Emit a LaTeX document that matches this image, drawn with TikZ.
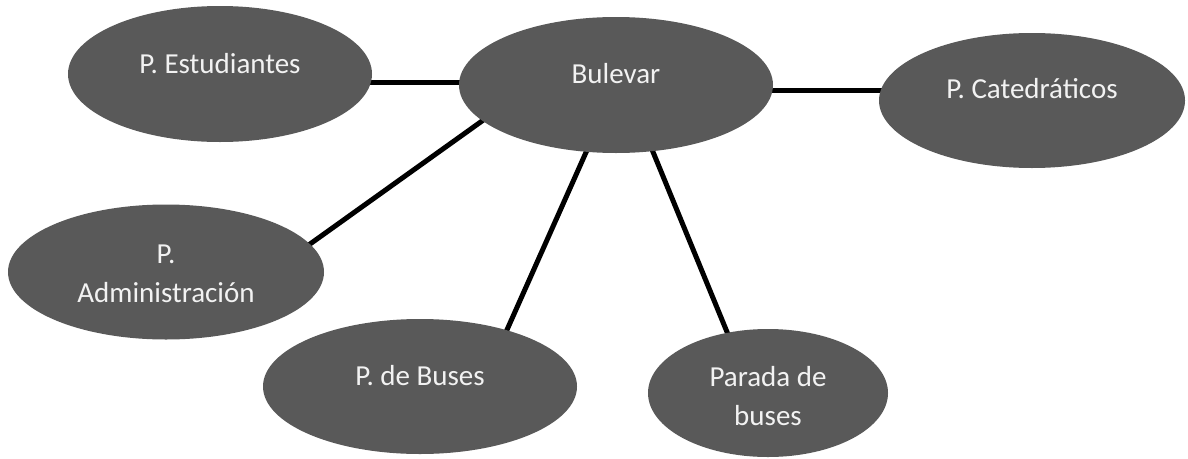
\documentclass[tikz,border=0pt]{standalone}
\usepackage{fontspec}
\setmainfont{Carlito}
\usetikzlibrary{shapes.geometric}
\pgfdeclarelayer{background}
\pgfsetlayers{background,main}
\definecolor{ellgray}{HTML}{595959}
\definecolor{txtwhite}{HTML}{F2F2F2}
\tikzset{
  oval/.style={ellipse, fill=ellgray, draw=none, inner sep=0pt},
  lbl/.style={text=txtwhite, align=center, anchor=base, font=\fontsize{29}{38.5}\selectfont, inner sep=0pt},
  link/.style={line width=5pt, black, shorten <=-3pt, shorten >=-3pt}
}
\begin{document}
\begin{tikzpicture}[x=1pt,y=-1pt]
\useasboundingbox (0,0) rectangle (1188,458);
\node[oval, minimum width=304pt, minimum height=136pt] (est) at (220,74) {};
\node[oval, minimum width=314pt, minimum height=136pt] (bul) at (616,85) {};
\node[oval, minimum width=306pt, minimum height=135pt] (cat) at (1032,100.5) {};
\node[oval, minimum width=316pt, minimum height=135pt] (adm) at (166,272) {};
\node[oval, minimum width=314pt, minimum height=135pt] (bus) at (420,386.5) {};
\node[oval, minimum width=240pt, minimum height=128pt] (par) at (768,393) {};
\node[lbl] (estT) at (220,73) {P. Estudiantes};
\node[lbl] (bulT) at (616,83) {Bulevar};
\node[lbl] (catT) at (1032,98) {P. Catedráticos};
\node[lbl] (admT) at (166,302) {P.\\Administración};
\node[lbl] (busT) at (420,385) {P. de Buses};
\node[lbl] (parT) at (768,425) {Parada de\\buses};
\begin{pgfonlayer}{background}
\draw[link] (bul.179) -- (bul.179 -| est.center);
\draw[link] (bul.-2.2) -- (bul.-2.2 -| cat.center);
\draw[link] (bul.195) -- (adm.11);
\draw[link] (bul.246.7) -- (bus.33.2);
\draw[link] (bul.299) -- (par.124.3);
\end{pgfonlayer}
\end{tikzpicture}
\end{document}
